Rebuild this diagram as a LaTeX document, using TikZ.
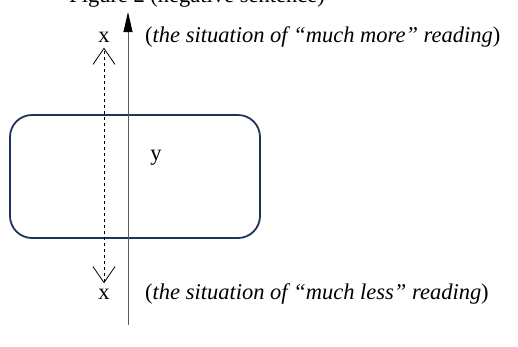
\documentclass[tikz,border=0pt]{standalone}
\usepackage{fontspec}
\setmainfont{Liberation Serif}
\usetikzlibrary{arrows.meta, positioning}
\definecolor{navy}{RGB}{30,52,88}

\begin{document}
\begin{tikzpicture}[x=1pt, y=-1pt, font=\fontsize{22.5}{27}\selectfont,
  region/.style={draw=navy, line width=1.8pt, rounded corners=22pt},
  lbl/.style={inner sep=0pt, anchor=west},
  axis/.style={draw=black!65, line width=0.9pt},
  vee/.tip={Straight Barb[length=16pt, width=22pt, line width=0.8pt]},
  scope/.style={dashed, line width=0.7pt, vee-vee}]
\useasboundingbox (0,0) rectangle (518,346);
\clip (0,0) rectangle (518,346);

% title, cut at the top
\node[inner sep=0pt, anchor=base] (title) at (197,2) {Figure 2 (negative sentence)};

% the area y
\draw[region] (10,115) rectangle (260,238);
\node (y) at (156,158) {y};

% main scale
\coordinate (top) at (128,12);
\coordinate (bot) at (128,325);
\draw[axis, -{Triangle[length=20pt, width=9pt, fill=black, color=black]}] (bot) -- (top);

% the two values of x
\node (xup) at (104,37) {x};
\node (xdn) at (104,294) {x};
\path (xdn.north) ++(0,-2) coordinate (sd) (xup.south) ++(0,2) coordinate (su);
\draw[scope] (sd) -- (su);

% readings
\node[lbl] (more) at (145,37) {(\textit{the situation of “much more” reading})};
\node[lbl] (less) at (145,294) {(\textit{the situation of “much less” reading})};
\end{tikzpicture}
\end{document}
